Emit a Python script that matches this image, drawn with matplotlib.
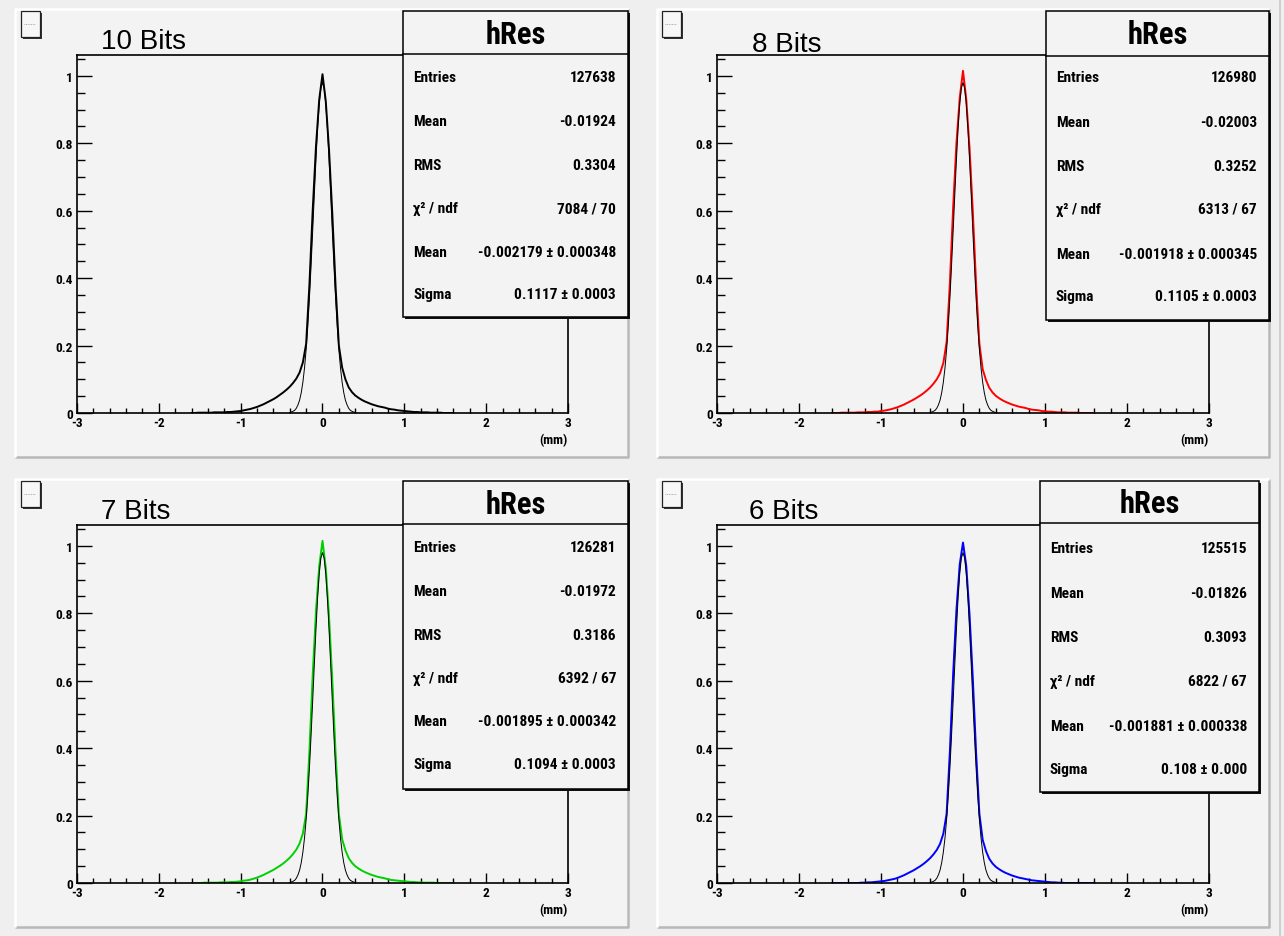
import numpy as np
import matplotlib
matplotlib.use("Agg")
import matplotlib.pyplot as plt
from matplotlib import font_manager
from matplotlib.patches import Rectangle

# ---------------- data ----------------
panel_titles = ["10 Bits", "8 Bits", "7 Bits", "6 Bits"]
hist_colors = ["#000000", "#ff0000", "#00d000", "#0000ff"]

bin_centers = np.round(np.arange(-40, 41) * 0.04, 2)

hist_10bits = [0.000, 0.000, 0.001, 0.001, 0.001, 0.001, 0.001, 0.002, 0.002, 0.002,
               0.002, 0.003, 0.003, 0.004, 0.005, 0.006, 0.008, 0.010, 0.012, 0.015,
               0.018, 0.022, 0.026, 0.031, 0.036, 0.041, 0.047, 0.054, 0.061, 0.069,
               0.078, 0.089, 0.102, 0.120, 0.150, 0.205, 0.380, 0.600, 0.790, 0.930,
               1.005,
               0.925, 0.780, 0.590, 0.375, 0.200, 0.135, 0.100, 0.076, 0.062, 0.052,
               0.045, 0.039, 0.034, 0.030, 0.026, 0.023, 0.020, 0.018, 0.016, 0.013,
               0.011, 0.010, 0.008, 0.007, 0.006, 0.005, 0.004, 0.003, 0.003, 0.002,
               0.002, 0.002, 0.001, 0.001, 0.001, 0.001, 0.000, 0.000, 0.000, 0.000]
hist_8bits = [0.000, 0.000, 0.000, 0.001, 0.001, 0.001, 0.001, 0.001, 0.002, 0.002,
              0.002, 0.003, 0.003, 0.004, 0.004, 0.006, 0.007, 0.009, 0.011, 0.014,
              0.017, 0.021, 0.025, 0.030, 0.035, 0.040, 0.046, 0.052, 0.059, 0.067,
              0.076, 0.087, 0.100, 0.118, 0.148, 0.210, 0.385, 0.610, 0.800, 0.935,
              1.015,
              0.930, 0.785, 0.595, 0.380, 0.205, 0.130, 0.098, 0.075, 0.061, 0.051,
              0.044, 0.038, 0.033, 0.029, 0.025, 0.022, 0.019, 0.017, 0.015, 0.012,
              0.010, 0.009, 0.008, 0.006, 0.005, 0.004, 0.004, 0.003, 0.002, 0.002,
              0.002, 0.001, 0.001, 0.001, 0.001, 0.000, 0.000, 0.000, 0.000, 0.000]
hist_7bits = [0.000, 0.000, 0.000, 0.000, 0.001, 0.001, 0.001, 0.001, 0.001, 0.002,
              0.002, 0.002, 0.003, 0.003, 0.004, 0.005, 0.007, 0.008, 0.010, 0.013,
              0.016, 0.020, 0.024, 0.029, 0.034, 0.039, 0.045, 0.051, 0.058, 0.066,
              0.075, 0.086, 0.099, 0.117, 0.147, 0.205, 0.390, 0.615, 0.805, 0.940,
              1.015,
              0.935, 0.790, 0.600, 0.385, 0.205, 0.130, 0.097, 0.074, 0.060, 0.050,
              0.043, 0.037, 0.032, 0.028, 0.024, 0.021, 0.018, 0.016, 0.014, 0.011,
              0.009, 0.008, 0.007, 0.006, 0.005, 0.004, 0.003, 0.003, 0.002, 0.002,
              0.001, 0.001, 0.001, 0.001, 0.000, 0.000, 0.000, 0.000, 0.000, 0.000]
hist_6bits = [0.000, 0.000, 0.000, 0.000, 0.000, 0.000, 0.000, 0.000, 0.000, 0.001,
              0.001, 0.002, 0.002, 0.003, 0.004, 0.005, 0.006, 0.008, 0.010, 0.012,
              0.015, 0.019, 0.023, 0.028, 0.033, 0.038, 0.044, 0.050, 0.057, 0.065,
              0.074, 0.085, 0.098, 0.116, 0.146, 0.205, 0.390, 0.620, 0.810, 0.945,
              1.010,
              0.940, 0.795, 0.605, 0.385, 0.205, 0.128, 0.095, 0.072, 0.058, 0.048,
              0.041, 0.035, 0.030, 0.026, 0.022, 0.019, 0.016, 0.014, 0.012, 0.010,
              0.008, 0.007, 0.006, 0.005, 0.004, 0.003, 0.002, 0.002, 0.001, 0.001,
              0.000, 0.000, 0.000, 0.000, 0.000, 0.000, 0.000, 0.000, 0.000, 0.000]
hist_values = [hist_10bits, hist_8bits, hist_7bits, hist_6bits]

fit_x = np.round(np.arange(-20, 21) * 0.02, 2)
fit_y = [0.001, 0.003, 0.005, 0.008, 0.014, 0.024, 0.038, 0.060, 0.091, 0.133,
         0.188, 0.257, 0.340, 0.436, 0.540, 0.648, 0.752, 0.845, 0.917, 0.964,
         0.980,
         0.964, 0.917, 0.845, 0.752, 0.648, 0.540, 0.436, 0.340, 0.257, 0.188,
         0.133, 0.091, 0.060, 0.038, 0.024, 0.014, 0.008, 0.005, 0.003, 0.001]

stat_labels = ["Entries", "Mean", "RMS", "χ² / ndf", "Mean", "Sigma"]
stat_10bits = ["127638", "-0.01924", "0.3304", "7084 / 70", "-0.002179 ± 0.000348", "0.1117 ± 0.0003"]
stat_8bits = ["126980", "-0.02003", "0.3252", "6313 / 67", "-0.001918 ± 0.000345", "0.1105 ± 0.0003"]
stat_7bits = ["126281", "-0.01972", "0.3186", "6392 / 67", "-0.001895 ± 0.000342", "0.1094 ± 0.0003"]
stat_6bits = ["125515", "-0.01826", "0.3093", "6822 / 67", "-0.001881 ± 0.000338", "0.108 ± 0.000"]
stat_values = [stat_10bits, stat_8bits, stat_7bits, stat_6bits]

x_ticks = [-3, -2, -1, 0, 1, 2, 3]
y_ticks = [0, 0.2, 0.4, 0.6, 0.8, 1]
y_tick_labels = ["0", "0.2", "0.4", "0.6", "0.8", "1"]
x_unit = "(mm)"

# ---------------- layout (pixels) ----------------
W, H = 1284, 937
layout = [
    dict(pad=(15, 10, 628, 458), frame=(77, 56, 568, 414), box=(403, 12, 628, 318), sep=55,
         rows=[78, 122, 166, 209, 253, 295], title=(101, 42), check=(21, 12)),
    dict(pad=(657, 10, 1269, 458), frame=(717, 56, 1209, 414), box=(1046, 12, 1269, 321), sep=57,
         rows=[78, 123, 167, 210, 255, 297], title=(752, 45), check=(662, 12)),
    dict(pad=(15, 480, 628, 928), frame=(77, 526, 568, 884), box=(403, 482, 628, 790), sep=525,
         rows=[548, 592, 636, 679, 722, 765], title=(101, 512), check=(21, 482)),
    dict(pad=(657, 480, 1269, 928), frame=(717, 526, 1209, 884), box=(1040, 482, 1259, 793), sep=524,
         rows=[549, 594, 638, 682, 727, 770], title=(749, 512), check=(662, 482)),
]

# ---------------- fonts ----------------
plt.rcParams["axes.unicode_minus"] = False
fonts = font_manager.fontManager.ttflist
names = {f.name for f in fonts}
narrow_family = None
narrow_stretch = "normal"
for cand in ["Liberation Sans Narrow", "Arial Narrow", "Nimbus Sans Narrow", "Roboto Condensed",
             "Open Sans Condensed", "Noto Sans Condensed"]:
    if cand in names:
        narrow_family = cand
        break
if narrow_family is None:
    for f in fonts:
        if f.name in ("Noto Sans", "Open Sans", "Roboto", "DejaVu Sans") and str(f.stretch) in ("condensed", "semi-condensed", "75", "87.5"):
            narrow_family = f.name
            narrow_stretch = "condensed"
            break
if narrow_family is None:
    narrow_family = "Liberation Sans"
NFAM = [narrow_family, "DejaVu Sans"]
NARROW = dict(family=NFAM, weight="bold", stretch=narrow_stretch)
REG = dict(family=["Liberation Sans", "DejaVu Sans"])

fig = plt.figure(figsize=(W / 100, H / 100), dpi=100)
fig.patch.set_facecolor("#efefef")
renderer = fig.canvas.get_renderer()


def fit_size(txt, max_size, target_w, **kw):
    t = fig.text(0, 0, txt, fontsize=max_size, **kw)
    w = t.get_window_extent(renderer=renderer).width
    t.remove()
    return min(max_size, max_size * target_w / w)


stat_size = fit_size("-0.002179 ± 0.000348", 12.5, 139, **NARROW)
title_size = fit_size("hRes", 22, 63, **NARROW)
tick_size = fit_size("0.8", 10, 17.5, **NARROW)


def fig_rect(x0, y0, x1, y1):
    return [x0 / W, 1 - y1 / H, (x1 - x0) / W, (y1 - y0) / H]


bg = fig.add_axes([0, 0, 1, 1], zorder=0)
bg.set_xlim(0, W)
bg.set_ylim(H, 0)
bg.axis("off")

bg.plot([1280, 1280], [0, H], color="#c8c8c8", lw=1.2)

for i in range(4):
    L = layout[i]
    px0, py0, px1, py1 = L["pad"]
    bg.add_patch(Rectangle((px0, py0), px1 - px0, py1 - py0, facecolor="#f3f3f3", edgecolor="none"))
    bg.plot([px0, px1, px1], [py1, py1, py0], color="#b8b8b8", lw=1.8, solid_capstyle="butt")
    bg.plot([px0, px0, px1], [py1, py0, py0], color="#ffffff", lw=1.8, solid_capstyle="butt")

    fx0, fy0, fx1, fy1 = L["frame"]
    ax = fig.add_axes(fig_rect(fx0, fy0, fx1, fy1), zorder=1)
    ax.set_facecolor("none")
    ax.set_xlim(-3, 3)
    ax.set_ylim(0, 1.062)
    ax.plot(bin_centers, hist_values[i], color=hist_colors[i], lw=1.4)
    ax.plot(fit_x, fit_y, color="black", lw=0.7)
    ax.set_xticks(x_ticks)
    ax.set_xticklabels([str(v) for v in x_ticks])
    ax.set_xticks(np.arange(-3, 3.001, 0.2), minor=True)
    ax.set_yticks(y_ticks)
    ax.set_yticklabels(y_tick_labels)
    ax.set_yticks(np.arange(0, 1.0601, 0.05), minor=True)
    ax.tick_params(axis="x", which="major", direction="in", length=7.5, width=1.0, pad=2.5)
    ax.tick_params(axis="x", which="minor", direction="in", length=3.8, width=1.0)
    ax.tick_params(axis="y", which="major", direction="in", length=10.5, width=1.0, pad=3)
    ax.tick_params(axis="y", which="minor", direction="in", length=5.5, width=1.0)
    for lab in ax.get_xticklabels() + ax.get_yticklabels():
        lab.set_fontfamily(NFAM)
        lab.set_fontweight("bold")
        lab.set_fontstretch(narrow_stretch)
        lab.set_fontsize(tick_size)
    for s in ax.spines.values():
        s.set_linewidth(1.2)

ov = fig.add_axes([0, 0, 1, 1], zorder=2)
ov.set_xlim(0, W)
ov.set_ylim(H, 0)
ov.axis("off")
ov.patch.set_alpha(0)

for i in range(4):
    L = layout[i]
    fx0, fy0, fx1, fy1 = L["frame"]
    ov.text(fx1, fy1 + 27, x_unit, ha="right", va="center", fontsize=tick_size, **NARROW)

    tx, ty = L["title"]
    ov.text(tx, ty, panel_titles[i], ha="left", va="center", fontsize=20, **REG)

    cx, cy = L["check"]
    ov.add_patch(Rectangle((cx + 1.5, cy + 1.5), 19, 26, facecolor="#333333", edgecolor="none"))
    ov.add_patch(Rectangle((cx, cy), 19, 26, facecolor="#f7f7f7", edgecolor="#222222", lw=0.9))
    ov.plot([cx + 3, cx + 14], [cy + 13, cy + 13], color="#999999", lw=0.6, ls=(0, (1, 1)))

    bx0, by0, bx1, by1 = L["box"]
    ov.add_patch(Rectangle((bx0 + 2, by0 + 2), bx1 - bx0, by1 - by0, facecolor="#111111", edgecolor="none"))
    ov.add_patch(Rectangle((bx0, by0), bx1 - bx0, by1 - by0, facecolor="#f3f3f3", edgecolor="black", lw=1.1))
    ov.plot([bx0, bx1], [L["sep"], L["sep"]], color="black", lw=1.1)
    ov.text((bx0 + bx1) / 2, (by0 + L["sep"]) / 2 + 1, "hRes", ha="center", va="center",
            fontsize=title_size, **NARROW)
    for r in range(6):
        ov.text(bx0 + 10, L["rows"][r], stat_labels[r], ha="left", va="center",
                fontsize=stat_size, **NARROW)
        ov.text(bx1 - 12, L["rows"][r], stat_values[i][r], ha="right", va="center",
                fontsize=stat_size, **NARROW)

fig.savefig("out.png", dpi=100, facecolor=fig.get_facecolor())
